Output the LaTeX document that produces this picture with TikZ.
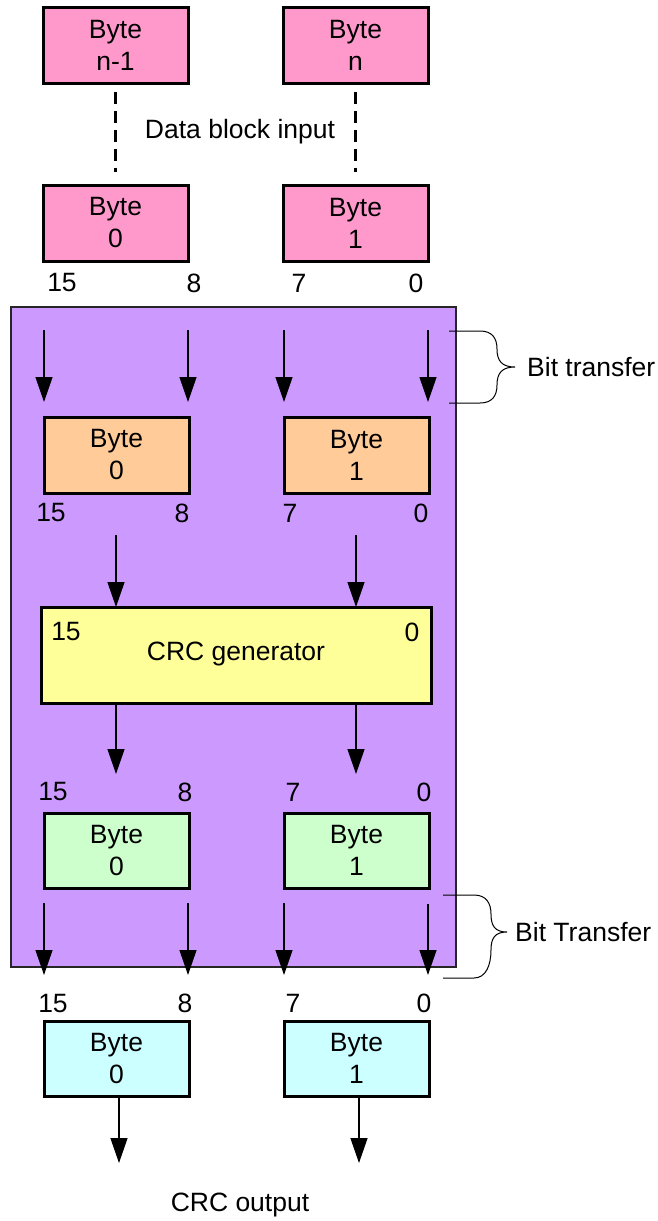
\documentclass[tikz,border=0pt]{standalone}
\usepackage{fontspec}
\setmainfont{Liberation Sans}
\usetikzlibrary{arrows.meta}
\definecolor{pinkc}{HTML}{FF99CC}
\definecolor{orangec}{HTML}{FFCC99}
\definecolor{purplec}{HTML}{CC99FF}
\definecolor{yellowc}{HTML}{FFFF99}
\definecolor{greenc}{HTML}{CCFFCC}
\definecolor{cyanc}{HTML}{CCFFFF}
\tikzset{
  bytebox/.style={draw=black, line width=3pt, minimum width=145pt, minimum height=76pt, inner sep=0pt, align=center, font=\fontsize{26.5}{32}\selectfont},
  lbl/.style={font=\fontsize{26.5}{30}\selectfont, inner sep=0pt},
  arr/.style={line width=1.3pt, -{Triangle[length=25pt,width=17pt]}},
  bracel/.style={line width=1pt},
  dashline/.style={line width=2.2pt, dash pattern=on 12pt off 7pt},
}
\begin{document}
\begin{tikzpicture}[x=1pt,y=-1pt]
\useasboundingbox (0,0) rectangle (658,1221);
% purple frame
\node[draw=black!85, line width=1.3pt, fill=purplec, minimum width=445pt, minimum height=660pt, inner sep=0pt] (frame) at (233.5,637) {};
% input boxes
\node[bytebox, fill=pinkc] (inA) at (115.5,45) {Byte\\n-1};
\node[bytebox, fill=pinkc] (inB) at (355.5,45) {Byte\\n};
\node[bytebox, fill=pinkc] (in0) at (115.5,223) {Byte\\0};
\node[bytebox, fill=pinkc] (in1) at (355.5,223) {Byte\\1};
\draw[dashline, shorten <=7pt, shorten >=12pt] (inA.south) -- (in0.north);
\draw[dashline, shorten <=7pt, shorten >=12pt] (inB.south) -- (in1.north);
\node[lbl] (dbi) at (240,132) {Data block input};
\node[lbl] (l1a) at (62,283) {15};
\node[lbl] (l1b) at (194,283) {8};
\node[lbl] (l1c) at (299,283) {7};
\node[lbl] (l1d) at (416,283) {0};
% orange
\node[bytebox, fill=orangec] (o0) at (116.5,455) {Byte\\0};
\node[bytebox, fill=orangec] (o1) at (356.5,455) {Byte\\1};
\coordinate (t1s) at (44,330); \coordinate (t1e) at (44,402);
\coordinate (t2s) at (188,330); \coordinate (t2e) at (188,402);
\coordinate (t3s) at (284,330); \coordinate (t3e) at (284,402);
\coordinate (t4s) at (428,330); \coordinate (t4e) at (428,402);
\draw[arr] (t1s) -- (t1e);
\draw[arr] (t2s) -- (t2e);
\draw[arr] (t3s) -- (t3e);
\draw[arr] (t4s) -- (t4e);
\node[lbl] (l2a) at (51,513) {15};
\node[lbl] (l2b) at (182,513) {8};
\node[lbl] (l2c) at (290,513) {7};
\node[lbl] (l2d) at (421,513) {0};
% CRC generator
\node[draw=black, line width=3pt, fill=yellowc, minimum width=390pt, minimum height=96pt, inner sep=0pt] (crc) at (236,655) {};
\node[lbl] (crct) at (236,654) {CRC generator};
\node[lbl] (crc15) at (66,632) {15};
\node[lbl] (crc0) at (412,632) {0};
\coordinate (c1s) at (116,535); \coordinate (c1e) at (116,607);
\coordinate (c2s) at (356,535); \coordinate (c2e) at (356,607);
\draw[arr] (c1s) -- (c1e);
\draw[arr] (c2s) -- (c2e);
\coordinate (d1s) at (116,703); \coordinate (d1e) at (116,774);
\coordinate (d2s) at (356,703); \coordinate (d2e) at (356,774);
\draw[arr] (d1s) -- (d1e);
\draw[arr] (d2s) -- (d2e);
\node[lbl] (l3a) at (53,792) {15};
\node[lbl] (l3b) at (185,792) {8};
\node[lbl] (l3c) at (293,792) {7};
\node[lbl] (l3d) at (424,792) {0};
% green
\node[bytebox, fill=greenc, minimum height=75pt] (g0) at (116.5,850.5) {Byte\\0};
\node[bytebox, fill=greenc, minimum height=75pt] (g1) at (356.5,850.5) {Byte\\1};
\coordinate (b1s) at (44,903); \coordinate (b1e) at (44,975);
\coordinate (b2s) at (188,903); \coordinate (b2e) at (188,975);
\coordinate (b3s) at (284,903); \coordinate (b3e) at (284,975);
\coordinate (b4s) at (428,904); \coordinate (b4e) at (428,975);
\draw[arr] (b1s) -- (b1e);
\draw[arr] (b2s) -- (b2e);
\draw[arr] (b3s) -- (b3e);
\draw[arr] (b4s) -- (b4e);
\node[lbl] (l4a) at (53,1003) {15};
\node[lbl] (l4b) at (185,1003) {8};
\node[lbl] (l4c) at (293,1003) {7};
\node[lbl] (l4d) at (424,1003) {0};
% cyan
\node[bytebox, fill=cyanc, minimum height=75pt] (k0) at (116.5,1058.5) {Byte\\0};
\node[bytebox, fill=cyanc, minimum height=75pt] (k1) at (356.5,1058.5) {Byte\\1};
\coordinate (e1) at (119,1163);
\coordinate (e2) at (359,1163);
\draw[arr] (k0.south -| e1) -- (e1);
\draw[arr] (k1.south -| e2) -- (e2);
\node[lbl] (out) at (240,1205) {CRC output};
% braces
\coordinate (br1a) at (449,331); \coordinate (br1b) at (449,403); \coordinate (br1t) at (515,367);
\draw[bracel] (br1a) -- (480,331) .. controls (492,331) and (497,338) .. (497,349)
  .. controls (497,361) and (502,367) .. (br1t)
  .. controls (502,367) and (497,373) .. (497,385)
  .. controls (497,396) and (492,403) .. (480,403) -- (br1b);
\node[lbl, anchor=west] (bt1) at (527,367) {Bit transfer};
\coordinate (br2a) at (443,895); \coordinate (br2b) at (443,978); \coordinate (br2t) at (507,932);
\draw[bracel] (br2a) -- (474,895) .. controls (486,895) and (491,903) .. (491,914)
  .. controls (491,926) and (495,932) .. (br2t)
  .. controls (495,932) and (491,938) .. (491,950)
  .. controls (491,965) and (486,978) .. (474,978) -- (br2b);
\node[lbl, anchor=west] (bt2) at (515,932) {Bit Transfer};
\end{tikzpicture}
\end{document}
